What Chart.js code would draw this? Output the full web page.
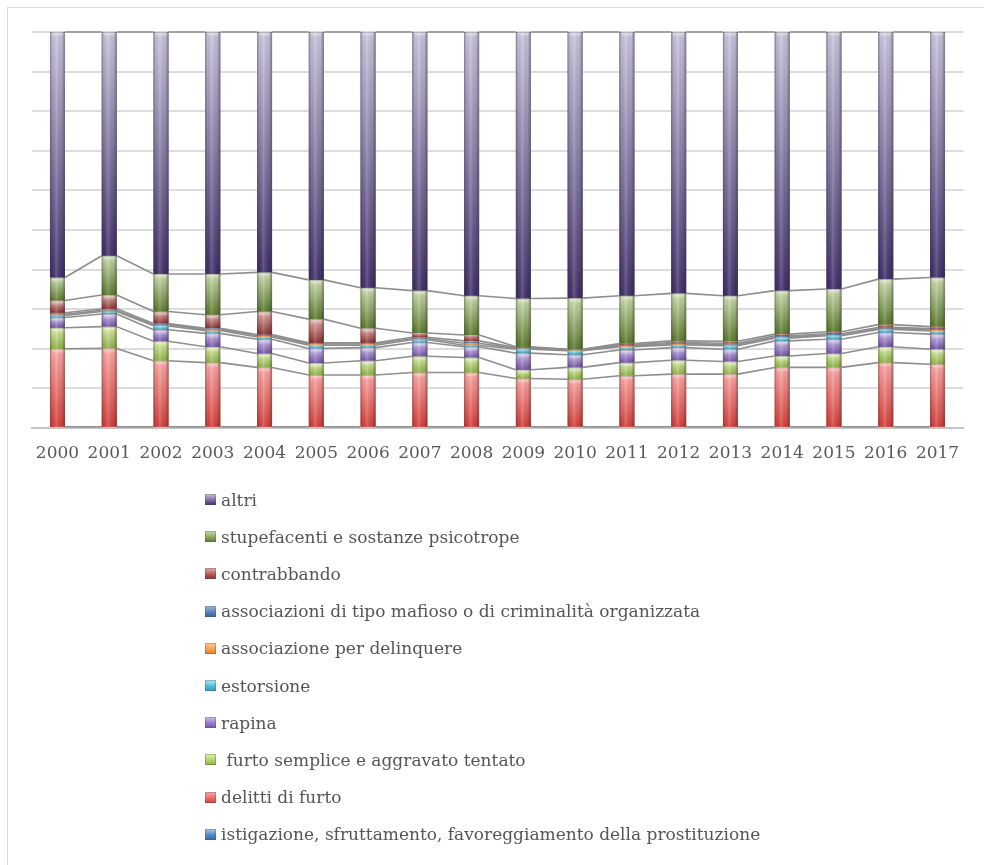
<!DOCTYPE html>
<html lang="it">
<head>
<meta charset="utf-8">
<title>Detenuti per tipologia di reato, 2000-2017</title>
<script src="https://cdn.jsdelivr.net/npm/chart.js@4/dist/chart.umd.min.js"></script>
<style>
  html, body { margin: 0; padding: 0; background: #ffffff; }
  body { width: 984px; height: 865px; overflow: hidden; position: relative; }
  #frame {
    position: absolute; left: 7px; top: 7px; width: 1000px; height: 900px;
    border: 1.5px solid #d9d9d9; box-sizing: border-box;
  }
  #plot { position: absolute; left: 0; top: 0; width: 984px; height: 486px; }
  #legend {
    position: absolute; left: 205px; top: 481px; margin: 0; padding: 0; list-style: none;
    font-family: 'DejaVu Serif', serif; font-size: 17px; color: #555555;
  }
  #legend li { display: flex; align-items: center; height: 37.2px; white-space: pre; }
  #legend .box {
    display: inline-block; width: 11px; height: 11px; margin-right: 5px;
    box-shadow: inset 0 0 0 1px rgba(80,80,80,0.35);
  }
</style>
</head>
<body>
<div id="frame"></div>
<div id="plot"><canvas id="chart"></canvas></div>
<ul id="legend"></ul>
<script>
// Anni
const years = ['2000','2001','2002','2003','2004','2005','2006','2007','2008',
               '2009','2010','2011','2012','2013','2014','2015','2016','2017'];

// Quote percentuali per tipologia di reato (dal basso verso l'alto)
const istigazione   = [0.3,0.3,0.3,0.3,0.3,0.3,0.3,0.3,0.3,0.3,0.3,0.3,0.3,0.3,0.3,0.3,0.3,0.3];
const delittiFurto  = [19.7,19.8,16.7,16.2,15.0,13.1,13.1,13.7,13.7,12.2,12.0,12.9,13.3,13.3,15.0,15.0,16.2,15.8];
const furtoSemplice = [5.3,5.5,4.9,4.0,3.5,3.0,3.6,4.1,3.8,2.2,3.0,3.3,3.5,3.2,2.9,3.5,4.0,3.8];
const rapina        = [2.6,3.2,2.9,3.4,3.6,3.7,3.3,3.5,2.7,4.2,3.2,3.2,3.2,3.1,3.8,3.6,3.6,3.8];
const estorsione    = [0.5,0.6,1.0,0.7,0.6,0.8,0.6,0.7,0.4,1.0,1.0,0.8,0.7,0.9,0.7,0.9,0.8,0.8];
const associazione  = [0.3,0.3,0.3,0.3,0.3,0.3,0.3,0.3,0.5,0.2,0.15,0.2,0.3,0.3,0.3,0.2,0.2,0.3];
const mafiosa       = [0.4,0.4,0.3,0.3,0.3,0.3,0.3,0.3,0.6,0.2,0.15,0.3,0.3,0.3,0.3,0.3,0.3,0.3];
const contrabbando  = [3.1,3.5,3.0,3.4,5.8,6.0,3.7,1.1,1.5,0.2,0.1,0.3,0.4,0.5,0.4,0.5,0.7,0.5];
const stupefacenti  = [5.8,9.9,9.5,10.3,9.9,9.9,10.2,10.7,9.9,12.2,12.9,12.1,12.0,11.5,11.0,10.8,11.5,12.4];
const altri         = [62.0,56.5,61.1,61.1,60.7,62.6,64.6,65.3,66.6,67.3,67.2,66.6,66.0,66.6,65.3,64.9,62.4,62.0];

// Nomi delle serie
const seriesNames = [
  'istigazione, sfruttamento, favoreggiamento della prostituzione',
  'delitti di furto',
  ' furto semplice e aggravato tentato',
  'rapina',
  'estorsione',
  'associazione per delinquere',
  'associazioni di tipo mafioso o di criminalità organizzata',
  'contrabbando',
  'stupefacenti e sostanze psicotrope',
  'altri'
];
const seriesValues = [istigazione, delittiFurto, furtoSemplice, rapina, estorsione,
                      associazione, mafiosa, contrabbando, stupefacenti, altri];

// Tinte: [chiara (alto), piena, scura (basso)]
const seriesShades = [
  ['#a9cbef', '#4f86c6', '#356aa6'],
  ['#ffaaa8', '#f06a66', '#d63d38'],
  ['#e0f2ae', '#b3d46c', '#8fb347'],
  ['#d0c0ef', '#9a7ccc', '#7553a8'],
  ['#b2eaf5', '#4fbfd9', '#2f9ebb'],
  ['#fdd0a0', '#f7a04e', '#e27d28'],
  ['#a6bfe2', '#5a80b6', '#36609a'],
  ['#e6b0ae', '#b85c5a', '#8a302e'],
  ['#cfe0b2', '#8aa85a', '#5b7a2c'],
  ['#cdc6df', '#7d6ca3', '#42306c']
];

const datasets = seriesNames.map((name, i) => ({
  label: name,
  data: seriesValues[i],
  backgroundColor: seriesShades[i][1],
  borderWidth: 0,
  stack: 'reati'
}));

// Riempimento sfumato delle barre e linee di serie tra le colonne
const barStylePlugin = {
  id: 'barStyle',
  afterDatasetsDraw(chart) {
    const ctx = chart.ctx;
    ctx.save();
    chart.data.datasets.forEach((ds, d) => {
      const meta = chart.getDatasetMeta(d);
      const [light, , dark] = seriesShades[d];
      meta.data.forEach(el => {
        const p = el.getProps(['x', 'y', 'base', 'width'], true);
        const left = p.x - p.width / 2;
        const top = Math.min(p.y, p.base);
        const h = Math.abs(p.base - p.y);
        if (h <= 0) return;
        const vg = ctx.createLinearGradient(0, top, 0, top + h);
        vg.addColorStop(0, light);
        vg.addColorStop(1, dark);
        ctx.fillStyle = vg;
        ctx.fillRect(left, top, p.width, h);
        const hg = ctx.createLinearGradient(left, 0, left + p.width, 0);
        hg.addColorStop(0, 'rgba(60,60,60,0.45)');
        hg.addColorStop(0.14, 'rgba(0,0,0,0.04)');
        hg.addColorStop(0.42, 'rgba(255,255,255,0.18)');
        hg.addColorStop(0.8, 'rgba(0,0,0,0.05)');
        hg.addColorStop(1, 'rgba(60,60,60,0.5)');
        ctx.fillStyle = hg;
        ctx.fillRect(left, top, p.width, h);
        if (h > 6) {
          const tg = ctx.createLinearGradient(0, top, 0, top + 5);
          tg.addColorStop(0, 'rgba(255,255,255,0.55)');
          tg.addColorStop(1, 'rgba(255,255,255,0)');
          ctx.fillStyle = tg;
          ctx.fillRect(left + 2, top, p.width - 4, 5);
          ctx.fillStyle = 'rgba(90,90,90,0.35)';
          ctx.fillRect(left, top, p.width, 1);
        }
      });
    });
    // linee di serie
    ctx.strokeStyle = '#8e8e8e';
    ctx.lineWidth = 1.6;
    chart.data.datasets.forEach((ds, d) => {
      const els = chart.getDatasetMeta(d).data;
      ctx.beginPath();
      for (let i = 0; i < els.length - 1; i++) {
        const a = els[i].getProps(['x', 'y', 'width'], true);
        const b = els[i + 1].getProps(['x', 'y', 'width'], true);
        ctx.moveTo(a.x + a.width / 2, a.y);
        ctx.lineTo(b.x - b.width / 2, b.y);
      }
      ctx.stroke();
    });
    ctx.restore();
  }
};

Chart.defaults.font.family = "'DejaVu Serif', serif";
Chart.defaults.font.size = 17;
Chart.defaults.color = '#595959';

const chart = new Chart(document.getElementById('chart'), {
  type: 'bar',
  data: { labels: years, datasets },
  options: {
    responsive: true,
    maintainAspectRatio: false,
    devicePixelRatio: 1,
    animation: false,
    layout: { padding: { left: 31.6, right: 20.6, top: 32, bottom: 7.6 } },
    plugins: { legend: { display: false }, tooltip: { enabled: false } },
    datasets: { bar: { categoryPercentage: 1, barPercentage: 0.29 } },
    scales: {
      x: {
        stacked: true,
        grid: { display: false, drawTicks: false },
        border: { display: true, color: '#c4c4c4', width: 2 },
        ticks: { padding: 15, maxRotation: 0, autoSkip: false, color: '#595959' }
      },
      y: {
        stacked: true,
        min: 0,
        max: 100,
        ticks: { display: false, stepSize: 10 },
        grid: { color: '#dcdcdc', lineWidth: 2, drawTicks: false },
        border: { display: false }
      }
    }
  },
  plugins: [barStylePlugin]
});

// Legenda in colonna, dalla serie superiore a quella inferiore
const legendEl = document.getElementById('legend');
chart.data.datasets.slice().reverse().forEach(ds => {
  const idx = chart.data.datasets.indexOf(ds);
  const [light, mid, dark] = seriesShades[idx];
  const li = document.createElement('li');
  const box = document.createElement('span');
  box.className = 'box';
  box.style.background = `linear-gradient(${light}, ${mid} 55%, ${dark})`;
  const txt = document.createElement('span');
  txt.textContent = ds.label;
  li.appendChild(box);
  li.appendChild(txt);
  legendEl.appendChild(li);
});
</script>
</body>
</html>
